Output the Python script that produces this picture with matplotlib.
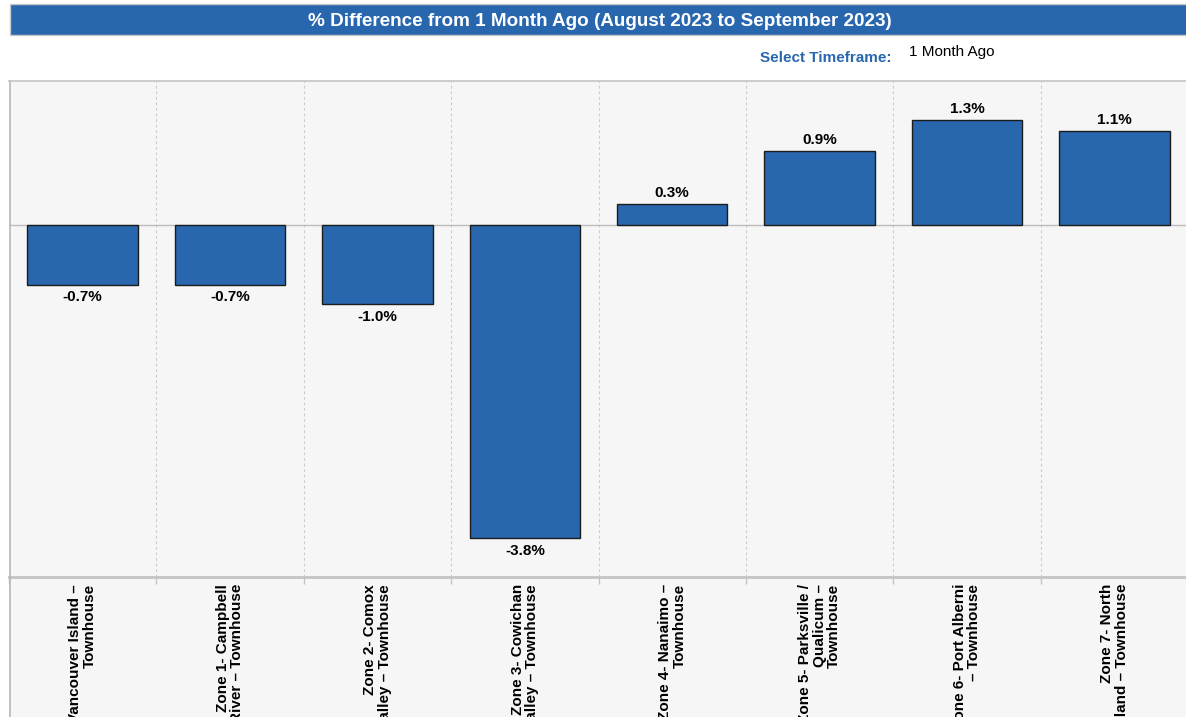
import matplotlib
matplotlib.use("Agg")
import matplotlib.pyplot as plt
from matplotlib.patches import Rectangle
from matplotlib.lines import Line2D

plt.rcParams["font.family"] = ["Liberation Sans", "DejaVu Sans"]

TITLE = "% Difference from 1 Month Ago (August 2023 to September 2023)"
categories = [
    "Vancouver Island –\nTownhouse",
    "Zone 1- Campbell\nRiver – Townhouse",
    "Zone 2- Comox\nValley – Townhouse",
    "Zone 3- Cowichan\nValley – Townhouse",
    "Zone 4- Nanaimo –\nTownhouse",
    "Zone 5- Parksville /\nQualicum –\nTownhouse",
    "Zone 6- Port Alberni\n– Townhouse",
    "Zone 7- North\nIsland – Townhouse",
]
pct_change = [-0.72, -0.72, -0.96, -3.80, 0.26, 0.90, 1.28, 1.14]

W, H = 1186, 717
BAR_BLUE = "#2866ae"
PANE_BG = "#f6f6f6"
GRID_GREY = "#cccccc"

fig = plt.figure(figsize=(W / 100, H / 100), dpi=100)
fig.patch.set_facecolor("white")

# grey pane behind plot + label area
fig.add_artist(Rectangle((9 / W, 0), 1, (H - 81) / H, transform=fig.transFigure,
                         facecolor=PANE_BG, edgecolor="none", zorder=0))
fig.add_artist(Line2D([9.5 / W, 9.5 / W], [0, (H - 81) / H], transform=fig.transFigure,
                      color="#b8b8b8", lw=1.2, zorder=1))
fig.add_artist(Line2D([9 / W, 1], [(H - 81) / H, (H - 81) / H], transform=fig.transFigure,
                      color="#c4c4c4", lw=1.2, zorder=1))

# title banner
fig.add_artist(Rectangle((10 / W, (H - 35) / H), 1.0, 31 / H, transform=fig.transFigure,
                         facecolor=BAR_BLUE, edgecolor="#c8c8c8", lw=1, zorder=1))
fig.text(600 / W, (H - 20) / H, TITLE, color="white", fontsize=13.6, fontweight="bold",
         ha="center", va="center_baseline")
fig.text(892 / W, (H - 58) / H, "Select Timeframe:", color="#2866ae", fontsize=11,
         fontweight="bold", ha="right", va="center")
fig.text(909 / W, (H - 52) / H, "1 Month Ago", color="black", fontsize=11,
         ha="left", va="center")

ax = fig.add_axes([9 / W, (H - 577) / H, 1179 / W, 496 / H])
ax.set_facecolor("none")
x = list(range(len(categories)))
bars = ax.bar(x, pct_change, width=0.75, color=BAR_BLUE, edgecolor="#1c1c1c", lw=1, zorder=3)
ax.set_xlim(-0.5, len(categories) - 0.5)
ax.set_ylim(-4.27, 1.75)
ax.axhline(0, color="#bdbdbd", lw=1, zorder=2)

for i in range(1, len(categories)):
    ax.axvline(i - 0.5, color=GRID_GREY, lw=0.8, ls=(0, (2.5, 2.5)), zorder=1)

for b, v in zip(bars, pct_change):
    if v >= 0:
        ax.annotate(f"{v:.1f}%", (b.get_x() + b.get_width() / 2, v), xytext=(0, 3),
                    textcoords="offset points", ha="center", va="bottom",
                    fontsize=11, fontweight="bold")
    else:
        ax.annotate(f"{v:.1f}%", (b.get_x() + b.get_width() / 2, v), xytext=(0, -4),
                    textcoords="offset points", ha="center", va="top",
                    fontsize=11, fontweight="bold")

for s in ("top", "right", "left"):
    ax.spines[s].set_visible(False)
ax.spines["bottom"].set_color("#c4c4c4")
ax.spines["bottom"].set_linewidth(2)
ax.set_yticks([])
ax.set_xticks(x)
ax.set_xticklabels(categories, rotation=90, ha="center", va="top", multialignment="right",
                   fontsize=11, fontweight="bold", linespacing=1.05)
ax.tick_params(axis="x", which="major", length=0, pad=5)
ax.set_xticks([i - 0.5 for i in range(len(categories) + 1)], minor=True)
ax.tick_params(axis="x", which="minor", length=5, color="#c4c4c4", width=1)

fig.savefig("out.png", dpi=100)
